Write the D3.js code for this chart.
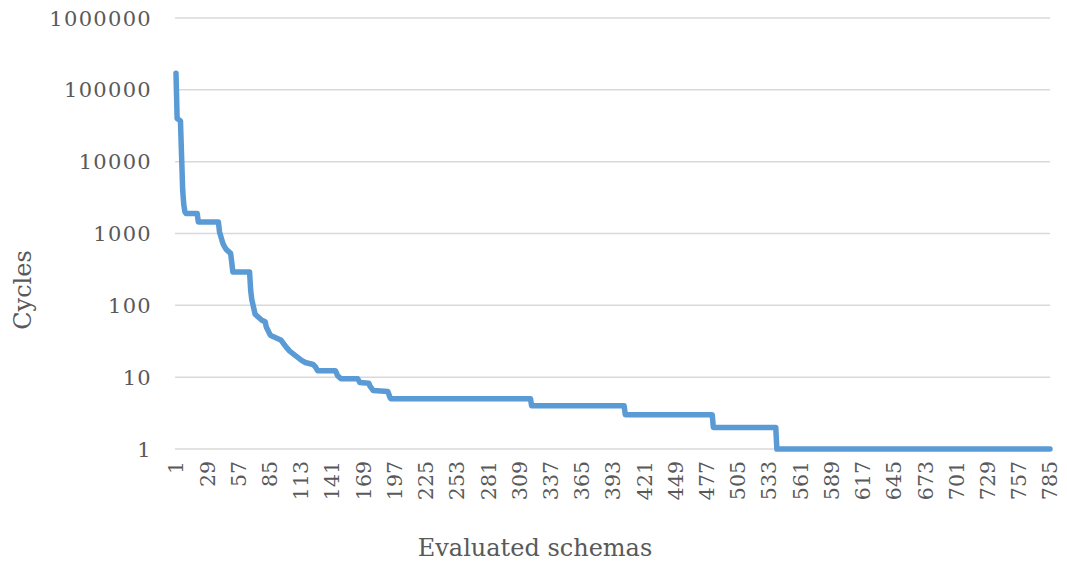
<!DOCTYPE html>
<html>
<head>
<meta charset="utf-8">
<script src="https://cdn.jsdelivr.net/npm/d3@7"></script>
<style>
body { margin: 0; background: #fff; }
text { font-family: "DejaVu Serif", serif; fill: #595959; }
</style>
</head>
<body>
<svg id="chart"></svg>
<script>
// x tick labels (category axis, every 28th schema)
const xTickLabels = [1, 29, 57, 85, 113, 141, 169, 197, 225, 253, 281, 309, 337, 365, 393,
    421, 449, 477, 505, 533, 561, 589, 617, 645, 673, 701, 729, 757, 785];
const yTickValues = [1, 10, 100, 1000, 10000, 100000, 1000000];
const lastSchema = 785;
// points: schema number / cycles
const schemaIdx = [1, 2, 5, 6, 7, 8, 9, 10, 20, 21, 39, 40, 43, 44, 46, 50, 51, 52, 67, 68,
    69, 72, 76, 78, 81, 82, 85, 86, 95, 97, 100, 103, 109, 114, 117, 124, 126, 128, 144, 146,
    149, 164, 166, 174, 175, 178, 191, 193, 194, 319, 320, 403, 404, 482, 483, 539, 540, 785];
const cycles = [170000, 40000, 37000, 12000, 4000, 2500, 2000, 1900, 1900, 1450, 1450, 1060, 730, 680, 600, 530, 400, 290, 290, 160,
    120, 75, 66, 62, 59, 50, 40, 38, 33, 30, 26, 23, 19.5, 17, 16, 15, 14, 12.3, 12.3, 10.5,
    9.5, 9.5, 8.4, 8.2, 7.5, 6.5, 6.3, 5.2, 5, 5, 4, 4, 3, 3, 2, 2, 1, 1];

const margin = {top: 18, right: 17, bottom: 112, left: 176},
    svgWidth = 1067,
    svgHeight = 561,
    width = svgWidth - margin.left - margin.right,
    height = svgHeight - margin.top - margin.bottom;

const chart = d3.select('#chart')
    .attr("width", svgWidth)
    .attr("height", svgHeight);
const g = chart.append("g")
    .attr("transform", `translate(${margin.left},${margin.top})`);

var xScale = d3.scaleLinear().domain([1, lastSchema]).range([0, width]);
var yScale = d3.scaleLog().domain([1, 1000000]).range([height, 0]);

// horizontal gridlines
g.selectAll(".grid").data(yTickValues).enter().append("line")
    .attr("x1", -1).attr("x2", width)
    .attr("y1", d => yScale(d)).attr("y2", d => yScale(d))
    .attr("stroke", "#d9d9d9").attr("stroke-width", 1.5);

// y labels
g.selectAll(".ylab").data(yTickValues).enter().append("text")
    .attr("x", -24).attr("y", d => yScale(d))
    .attr("dy", "0.36em")
    .attr("text-anchor", "end")
    .style("font-size", "21px")
    .style("letter-spacing", "1.3px")
    .text(d => d);

// x labels, rotated
g.selectAll(".xlab").data(xTickLabels).enter().append("text")
    .attr("transform", d => `translate(${xScale(d)},${height + 12}) rotate(-90)`)
    .attr("dy", "0.36em")
    .attr("text-anchor", "end")
    .style("font-size", "20.5px")
    .text(d => d);

// the curve
var valueline = d3.line()
    .x((d, i) => xScale(schemaIdx[i]))
    .y(d => yScale(d));
g.append("path")
    .datum(cycles)
    .attr("d", valueline)
    .attr("fill", "none")
    .attr("stroke", "#5b9bd5")
    .attr("stroke-width", 5.5)
    .attr("stroke-linejoin", "round")
    .attr("stroke-linecap", "round");

// axis titles
chart.append("text")
    .attr("transform", "translate(22,290) rotate(-90)")
    .attr("dy", "0.36em")
    .attr("text-anchor", "middle")
    .style("font-size", "24px")
    .text("Cycles");
chart.append("text")
    .attr("x", 535).attr("y", 547)
    .attr("dy", "0.36em")
    .attr("text-anchor", "middle")
    .style("font-size", "24px")
    .text("Evaluated schemas");
</script>
</body>
</html>
